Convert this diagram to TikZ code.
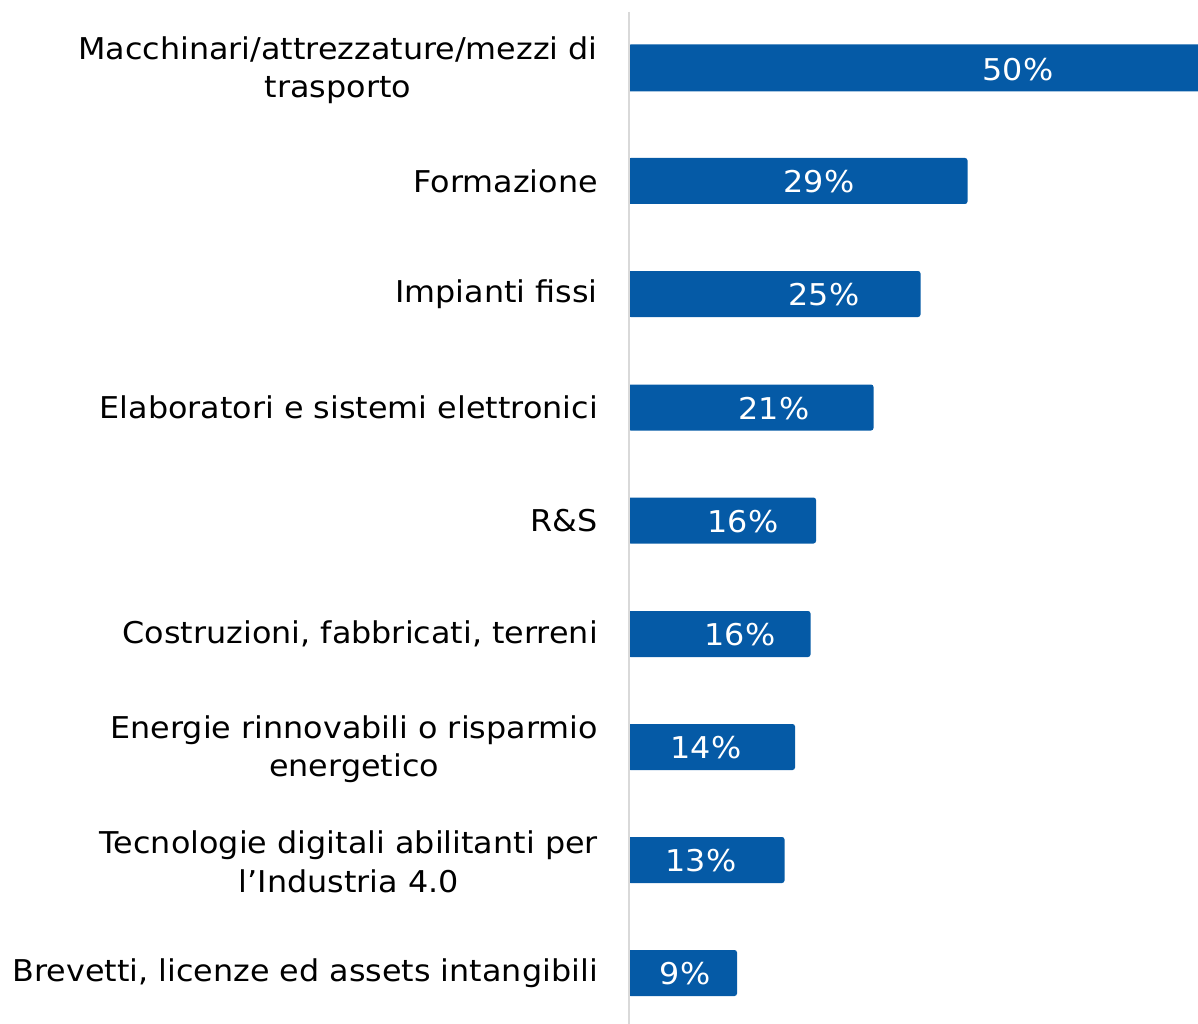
\documentclass[tikz,border=0pt]{standalone}
\usepackage{fontspec}
\setmainfont[FakeStretch=1.06]{DejaVu Sans}
\definecolor{barblue}{RGB}{5,90,166}
\definecolor{axisgray}{RGB}{217,217,217}
\tikzset{
  cat/.style={anchor=east, align=center, inner sep=0pt, font=\fontsize{30}{38.5}\selectfont, text=black},
  val/.style={inner sep=0pt, font=\fontsize{30}{36}\selectfont, text=white},
  bar/.style={fill=barblue, rounded corners=2.5pt}
}
\begin{document}
\begin{tikzpicture}[x=1pt,y=-1pt]
\useasboundingbox (0,0) rectangle (1198,1024);
% bars
\fill[bar] (628,44.5) rectangle (1205,91.5);
\fill[bar] (628,158) rectangle (967.5,204);
\fill[bar] (628,271) rectangle (920.5,317);
\fill[bar] (628,384.5) rectangle (873.5,430.5);
\fill[bar] (628,497.5) rectangle (816,543.5);
\fill[bar] (628,611) rectangle (810.5,657);
\fill[bar] (628,724) rectangle (795,770);
\fill[bar] (628,837) rectangle (784.5,883);
\fill[bar] (628,950) rectangle (737,996);
% axis
\draw[axisgray, line width=2pt] (629,12) -- (629,1024);
% category labels
\node[cat] (c1) at (598,70) {Macchinari/attrezzature/mezzi di\\trasporto};
\node[cat] (c2) at (598,181) {Formazione};
\node[cat] (c3) at (598,294) {Impianti fissi};
\node[cat] (c4) at (598,407.5) {Elaboratori e sistemi elettronici};
\node[cat] (c5) at (598,520.5) {R\&S};
\node[cat] (c6) at (598,634) {Costruzioni, fabbricati, terreni};
\node[cat] (c7) at (598,749) {Energie rinnovabili o risparmio\\energetico};
\node[cat] (c8) at (598,862) {Tecnologie digitali abilitanti per\\l’Industria 4.0};
\node[cat] (c9) at (598,973) {Brevetti, licenze ed assets intangibili};
% value labels
\node[val] (v1) at (1018,69.5) {50\%};
\node[val] (v2) at (819,182) {29\%};
\node[val] (v3) at (824,295) {25\%};
\node[val] (v4) at (774,408.5) {21\%};
\node[val] (v5) at (743,521.5) {16\%};
\node[val] (v6) at (740,635) {16\%};
\node[val] (v7) at (706,748) {14\%};
\node[val] (v8) at (701,861) {13\%};
\node[val] (v9) at (685,974) {9\%};
\end{tikzpicture}
\end{document}
